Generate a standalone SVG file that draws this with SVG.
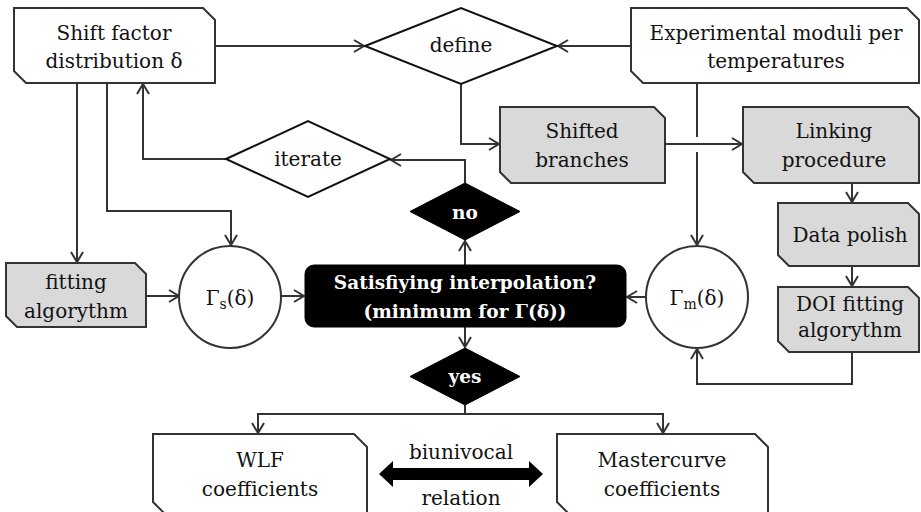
<svg xmlns="http://www.w3.org/2000/svg" width="921" height="512" viewBox="0 0 921 512">
<style>
.box{fill:#fff;stroke:#333;stroke-width:2}
.gbox{fill:#d9d9d9;stroke:#333;stroke-width:2}
.dia{fill:#fff;stroke:#111;stroke-width:2}
.blk{fill:#000;stroke:#000;stroke-width:1}
.t{font-family:"DejaVu Serif","Liberation Serif",serif;font-size:20px;fill:#111;text-anchor:middle}
.tb{font-family:"DejaVu Serif","Liberation Serif",serif;font-size:18.5px;font-weight:bold;fill:#fff;text-anchor:middle}
.sub{font-size:14px}
.c{fill:none;stroke:#333;stroke-width:2}
.a{marker-end:url(#ah)}
</style>
<defs>
<marker id="ah" markerUnits="userSpaceOnUse" markerWidth="14" markerHeight="14" viewBox="0 0 12 14" refX="10" refY="7" orient="auto" overflow="visible">
<path d="M0,1 L10,7 L0,13" fill="none" stroke="#333" stroke-width="2"/>
</marker>
</defs>
<rect width="921" height="512" fill="#fff"/>

<g id="connectors">
<path class="c a" d="M215,46 H364"/>
<path class="c a" d="M631,46 H558"/>
<path class="c a" d="M461,84 V144 H499"/>
<path class="c a" d="M665,144 H742"/>
<path class="c" d="M697,83 V137"/>
<path class="c a" d="M697,152 V245"/>
<path class="c a" d="M852,183 V202"/>
<path class="c a" d="M852,266 V286"/>
<path class="c a" d="M852,352 V384 H697 V349"/>
<path class="c a" d="M645,297 H627"/>
<path class="c a" d="M465,265 V241"/>
<path class="c a" d="M465,183 V160 H391"/>
<path class="c a" d="M226,159 H143 V84"/>
<path class="c a" d="M77,83 V262"/>
<path class="c a" d="M107,83 V211 H231 V245"/>
<path class="c a" d="M146,296 H179"/>
<path class="c a" d="M281,296 H304"/>
<path class="c a" d="M465,327 V347"/>
<path class="c" d="M465,405 V414"/>
<path class="c a" d="M465,414 H258 V433"/>
<path class="c a" d="M465,414 H663 V433"/>
<polygon id="biunivocal-arrow" points="379,474 393,461 393,468 529,468 529,461 543,474 529,487 529,480 393,480 393,487" fill="#000"/>
</g>

<g id="shift-factor">
<polygon class="box" points="14,8 203,8 215,20 215,83 26,83 14,71"/>
<text class="t" x="114" y="40">Shift factor</text>
<text class="t" x="114" y="68">distribution δ</text>
</g>

<g id="define">
<polygon class="dia" points="365,46 461,8 557,46 461,84"/>
<text class="t" x="461" y="52">define</text>
</g>

<g id="experimental">
<polygon class="box" points="631,8 907,8 919,20 919,83 643,83 631,71"/>
<text class="t" x="776" y="40">Experimental moduli per</text>
<text class="t" x="776" y="68">temperatures</text>
</g>

<g id="shifted">
<polygon class="gbox" points="500,107 654,107 665,118 665,183 511,183 500,172"/>
<text class="t" x="582" y="138">Shifted</text>
<text class="t" x="582" y="167">branches</text>
</g>

<g id="linking">
<polygon class="gbox" points="743,107 908,107 919,118 919,183 754,183 743,172"/>
<text class="t" x="834" y="138">Linking</text>
<text class="t" x="834" y="167">procedure</text>
</g>

<g id="data-polish">
<polygon class="gbox" points="778,203 908,203 919,214 919,266 789,266 778,255"/>
<text class="t" x="850" y="242">Data polish</text>
</g>

<g id="doi">
<polygon class="gbox" points="778,287 908,287 919,298 919,352 789,352 778,341"/>
<text class="t" x="850" y="311">DOI fitting</text>
<text class="t" x="850" y="337">algorythm</text>
</g>

<g id="iterate">
<polygon class="dia" points="226,159 308,121 390,159 308,197"/>
<text class="t" x="308" y="166">iterate</text>
</g>

<g id="fitting">
<polygon class="gbox" points="6,263 135,263 146,274 146,327 17,327 6,316"/>
<text class="t" x="76" y="289">fitting</text>
<text class="t" x="76" y="318">algorythm</text>
</g>

<g id="gamma-s">
<circle class="box" cx="230" cy="297" r="51" stroke="#111"/>
<text class="t" x="230" y="305">Γ<tspan class="sub" dy="4">s</tspan><tspan dy="-4">(δ)</tspan></text>
</g>

<g id="gamma-m">
<circle class="box" cx="697" cy="297" r="51" stroke="#111"/>
<text class="t" x="697" y="305">Γ<tspan class="sub" dy="4">m</tspan><tspan dy="-4">(δ)</tspan></text>
</g>

<g id="satisfying">
<rect class="blk" x="305" y="265" width="321" height="62" rx="9"/>
<text class="tb" x="465" y="289">Satisfiying interpolation?</text>
<text class="tb" x="465" y="318">(minimum for Γ(δ))</text>
</g>

<g id="no">
<polygon class="blk" points="410,211.5 465,183 520,211.5 465,240"/>
<text class="tb" x="465" y="219">no</text>
</g>

<g id="yes">
<polygon class="blk" points="410,376.5 465,348 520,376.5 465,405"/>
<text class="tb" x="465" y="383">yes</text>
</g>

<g id="wlf">
<polygon class="box" points="153,434 354,434 367,447 367,514 165,514 153,502"/>
<text class="t" x="260" y="467">WLF</text>
<text class="t" x="260" y="496">coefficients</text>
</g>

<g id="mastercurve">
<polygon class="box" points="557,434 755,434 768,447 768,514 569,514 557,502"/>
<text class="t" x="662" y="467">Mastercurve</text>
<text class="t" x="662" y="496">coefficients</text>
</g>

<g id="relation-labels">
<text class="t" x="461" y="459">biunivocal</text>
<text class="t" x="461" y="505">relation</text>
</g>
</svg>
